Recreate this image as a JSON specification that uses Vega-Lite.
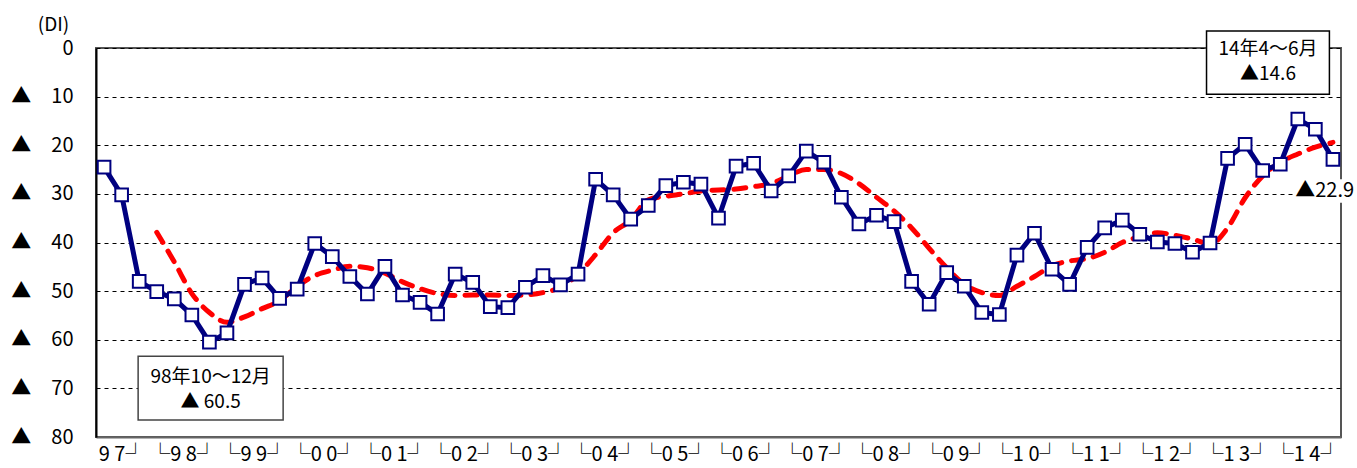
{
  "$schema": "https://vega.github.io/schema/vega-lite/v6.json",
  "width": 1245,
  "height": 389,
  "autosize": {"type": "none"},
  "padding": {"left": 96, "top": 48, "right": 16, "bottom": 31},
  "background": "white",
  "config": {
    "view": {"stroke": "#555555", "strokeWidth": 2},
    "font": "Noto Sans CJK JP",
    "text": {"font": "Noto Sans CJK JP"}
  },
  "datasets": {
    "di": [
      {"q": 0, "di": 24.5, "tr": null},
      {"q": 1, "di": 30.2, "tr": null},
      {"q": 2, "di": 48.0, "tr": null},
      {"q": 3, "di": 50.1, "tr": 37.9},
      {"q": 4, "di": 51.6, "tr": 44.0},
      {"q": 5, "di": 54.9, "tr": 50.5},
      {"q": 6, "di": 60.5, "tr": 54.4},
      {"q": 7, "di": 58.6, "tr": 56.4},
      {"q": 8, "di": 48.6, "tr": 55.3},
      {"q": 9, "di": 47.3, "tr": 53.6},
      {"q": 10, "di": 51.5, "tr": 52.0},
      {"q": 11, "di": 49.6, "tr": 49.0},
      {"q": 12, "di": 40.2, "tr": 46.8},
      {"q": 13, "di": 42.9, "tr": 45.7},
      {"q": 14, "di": 47.0, "tr": 44.9},
      {"q": 15, "di": 50.6, "tr": 45.2},
      {"q": 16, "di": 44.9, "tr": 46.3},
      {"q": 17, "di": 50.8, "tr": 48.1},
      {"q": 18, "di": 52.3, "tr": 49.5},
      {"q": 19, "di": 54.7, "tr": 50.5},
      {"q": 20, "di": 46.5, "tr": 50.9},
      {"q": 21, "di": 48.2, "tr": 50.8},
      {"q": 22, "di": 53.2, "tr": 50.8},
      {"q": 23, "di": 53.4, "tr": 50.9},
      {"q": 24, "di": 49.2, "tr": 50.8},
      {"q": 25, "di": 46.8, "tr": 50.3},
      {"q": 26, "di": 48.7, "tr": 49.2},
      {"q": 27, "di": 46.5, "tr": 46.5},
      {"q": 28, "di": 27.0, "tr": 42.5},
      {"q": 29, "di": 30.2, "tr": 38.0},
      {"q": 30, "di": 35.2, "tr": 35.4},
      {"q": 31, "di": 32.4, "tr": 31.2},
      {"q": 32, "di": 28.3, "tr": 30.5},
      {"q": 33, "di": 27.6, "tr": 30.0},
      {"q": 34, "di": 28.0, "tr": 29.4},
      {"q": 35, "di": 35.0, "tr": 29.2},
      {"q": 36, "di": 24.3, "tr": 29.0},
      {"q": 37, "di": 23.7, "tr": 28.5},
      {"q": 38, "di": 29.4, "tr": 27.9},
      {"q": 39, "di": 26.3, "tr": 26.3},
      {"q": 40, "di": 21.2, "tr": 25.0},
      {"q": 41, "di": 23.5, "tr": 25.0},
      {"q": 42, "di": 30.7, "tr": 25.8},
      {"q": 43, "di": 36.2, "tr": 27.9},
      {"q": 44, "di": 34.4, "tr": 30.7},
      {"q": 45, "di": 35.7, "tr": 33.5},
      {"q": 46, "di": 48.0, "tr": 37.0},
      {"q": 47, "di": 52.7, "tr": 41.2},
      {"q": 48, "di": 46.2, "tr": 45.2},
      {"q": 49, "di": 49.0, "tr": 48.6},
      {"q": 50, "di": 54.4, "tr": 50.3},
      {"q": 51, "di": 54.8, "tr": 50.9},
      {"q": 52, "di": 42.6, "tr": 49.0},
      {"q": 53, "di": 38.1, "tr": 47.0},
      {"q": 54, "di": 45.5, "tr": 44.8},
      {"q": 55, "di": 48.6, "tr": 43.8},
      {"q": 56, "di": 41.0, "tr": 43.3},
      {"q": 57, "di": 37.0, "tr": 42.0},
      {"q": 58, "di": 35.4, "tr": 40.0},
      {"q": 59, "di": 38.3, "tr": 38.8},
      {"q": 60, "di": 39.9, "tr": 38.0},
      {"q": 61, "di": 40.2, "tr": 38.5},
      {"q": 62, "di": 42.0, "tr": 39.3},
      {"q": 63, "di": 40.1, "tr": 40.3},
      {"q": 64, "di": 22.7, "tr": 37.0},
      {"q": 65, "di": 19.8, "tr": 30.8},
      {"q": 66, "di": 25.2, "tr": 26.3},
      {"q": 67, "di": 23.9, "tr": 23.5},
      {"q": 68, "di": 14.6, "tr": 21.8},
      {"q": 69, "di": 16.7, "tr": 20.4},
      {"q": 70, "di": 22.9, "tr": 19.4}
    ]
  },
  "layer": [
    {
      "data": {"name": "di"},
      "transform": [{"filter": "datum.tr != null"}],
      "mark": {"type": "line", "color": "#FF0000", "strokeWidth": 5, "strokeDash": [12, 10], "strokeCap": "round", "interpolate": "monotone"},
      "encoding": {
        "x": {
          "field": "q",
          "type": "quantitative",
          "scale": {"domain": [-0.46, 70.46], "nice": false, "zero": false},
          "axis": {
            "values": [1, 4.5, 8.5, 12.5, 16.5, 20.5, 24.5, 28.5, 32.5, 36.5, 40.5, 44.5, 48.5, 52.5, 56.5, 60.5, 64.5, 68.5],
            "labelExpr": "datum.value < 2 ? '9 7┘' : '└' + ['9 8','9 9','0 0','0 1','0 2','0 3','0 4','0 5','0 6','0 7','0 8','0 9','1 0','1 1','1 2','1 3','1 4'][(datum.value - 4.5) / 4] + '┘'",
            "title": null,
            "grid": false,
            "ticks": false,
            "domain": true,
            "domainColor": "#666666",
            "domainWidth": 2,
            "labelFont": "Noto Sans CJK JP",
            "labelFontSize": 20,
            "labelColor": "black",
            "labelPadding": 7,
            "labelFlush": false,
            "labelOverlap": false
          }
        },
        "y": {
          "field": "tr",
          "type": "quantitative",
          "scale": {"domain": [0, 80], "reverse": true, "nice": false, "zero": false},
          "axis": {
            "values": [0, 10, 20, 30, 40, 50, 60, 70, 80],
            "labelExpr": "datum.value == 0 ? '0' : '▲　' + datum.value",
            "title": "(DI)",
            "titleAngle": 0,
            "titleAlign": "center",
            "titleBaseline": "bottom",
            "titleX": -43,
            "titleY": -14,
            "titleFont": "Noto Sans CJK JP",
            "titleFontSize": 19,
            "titleFontWeight": "normal",
            "titleColor": "black",
            "grid": true,
            "gridColor": "black",
            "gridDash": [4, 4],
            "gridWidth": 1,
            "ticks": false,
            "domain": true,
            "domainColor": "black",
            "domainWidth": 2,
            "labelFont": "Noto Sans CJK JP",
            "labelFontSize": 20,
            "labelColor": "black",
            "labelPadding": 23,
            "labelFlush": false,
            "labelOverlap": false
          }
        }
      }
    },
    {
      "data": {"name": "di"},
      "mark": {"type": "line", "color": "#000080", "strokeWidth": 5},
      "encoding": {
        "x": {"field": "q", "type": "quantitative"},
        "y": {"field": "di", "type": "quantitative"}
      }
    },
    {
      "data": {"name": "di"},
      "mark": {"type": "square", "filled": true, "fill": "white", "stroke": "#000080", "strokeWidth": 2, "size": 160, "opacity": 1},
      "encoding": {
        "x": {"field": "q", "type": "quantitative"},
        "y": {"field": "di", "type": "quantitative"}
      }
    },
    {
      "data": {"values": [{}]},
      "mark": {"type": "rect", "fill": "white", "stroke": "#444444", "strokeWidth": 1.5},
      "encoding": {
        "x": {"datum": 1.94, "type": "quantitative"},
        "x2": {"datum": 10.2},
        "y": {"datum": 63.4, "type": "quantitative"},
        "y2": {"datum": 76.5}
      }
    },
    {
      "data": {"values": [{}]},
      "mark": {"type": "text", "text": "98年10～12月", "font": "Noto Sans CJK JP", "fontSize": 19, "align": "center", "baseline": "middle", "color": "black"},
      "encoding": {
        "x": {"datum": 6.07, "type": "quantitative"},
        "y": {"datum": 67.6, "type": "quantitative"}
      }
    },
    {
      "data": {"values": [{}]},
      "mark": {"type": "text", "text": "▲ 60.5", "font": "Noto Sans CJK JP", "fontSize": 19, "align": "center", "baseline": "middle", "color": "black"},
      "encoding": {
        "x": {"datum": 6.07, "type": "quantitative"},
        "y": {"datum": 72.9, "type": "quantitative"}
      }
    },
    {
      "data": {"values": [{}]},
      "mark": {"type": "rect", "fill": "white", "stroke": "black", "strokeWidth": 1.5},
      "encoding": {
        "x": {"datum": 62.8, "type": "quantitative"},
        "x2": {"datum": 69.8},
        "y": {"datum": -3.5, "type": "quantitative"},
        "y2": {"datum": 9.5}
      }
    },
    {
      "data": {"values": [{}]},
      "mark": {"type": "text", "text": "14年4～6月", "font": "Noto Sans CJK JP", "fontSize": 19, "align": "center", "baseline": "middle", "color": "black"},
      "encoding": {
        "x": {"datum": 66.3, "type": "quantitative"},
        "y": {"datum": 0.2, "type": "quantitative"}
      }
    },
    {
      "data": {"values": [{}]},
      "mark": {"type": "text", "text": "▲14.6", "font": "Noto Sans CJK JP", "fontSize": 19, "align": "center", "baseline": "middle", "color": "black"},
      "encoding": {
        "x": {"datum": 66.3, "type": "quantitative"},
        "y": {"datum": 5.4, "type": "quantitative"}
      }
    },
    {
      "data": {"values": [{}]},
      "mark": {"type": "rect", "fill": "white", "stroke": null},
      "encoding": {
        "x": {"datum": 67.75, "type": "quantitative"},
        "x2": {"datum": 71.4},
        "y": {"datum": 27.0, "type": "quantitative"},
        "y2": {"datum": 31.8}
      }
    },
    {
      "data": {"values": [{}]},
      "mark": {"type": "text", "text": "▲22.9", "font": "Noto Sans CJK JP", "fontSize": 20, "align": "left", "baseline": "middle", "color": "black"},
      "encoding": {
        "x": {"datum": 67.85, "type": "quantitative"},
        "y": {"datum": 29.4, "type": "quantitative"}
      }
    }
  ]
}
